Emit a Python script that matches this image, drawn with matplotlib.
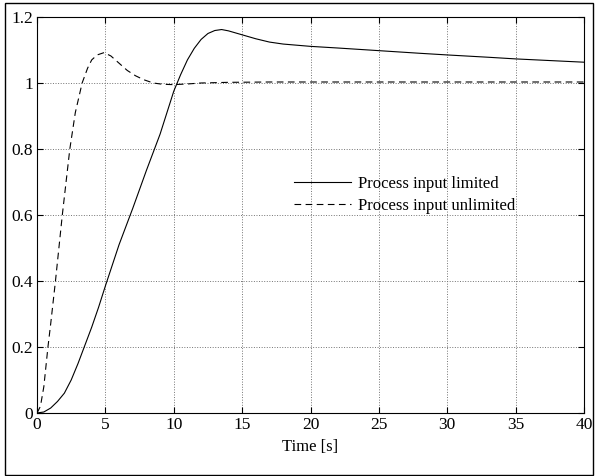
import matplotlib.pyplot as plt
from matplotlib.patches import Rectangle

plt.rcParams["font.family"] = ["Liberation Serif", "DejaVu Serif"]

# step responses
t_limited = [0, 0.5, 1, 1.5, 2, 2.5, 3, 3.5, 4, 4.5, 5, 6, 7, 8, 9, 10, 10.5, 11,
             11.5, 12, 12.5, 13, 13.5, 14, 14.5, 15, 16, 17, 18, 20, 22, 25, 28,
             30, 33, 35, 38, 40]
y_limited = [0, 0.003, 0.015, 0.035, 0.06, 0.10, 0.15, 0.205, 0.26, 0.32, 0.385,
             0.51, 0.62, 0.735, 0.845, 0.975, 1.025, 1.07, 1.105, 1.132, 1.15,
             1.159, 1.162, 1.158, 1.152, 1.146, 1.134, 1.124, 1.118, 1.111, 1.106,
             1.098, 1.09, 1.085, 1.078, 1.073, 1.067, 1.063]

t_unlimited = [0, 0.25, 0.5, 0.8, 1.0, 1.35, 1.85, 2.4, 2.8, 3.3, 3.7, 4.0, 4.4,
               4.9, 5.4, 6.0, 6.6, 7.2, 7.8, 8.5, 9.2, 10, 11, 12, 14, 17, 20, 25,
               30, 35, 40]
y_unlimited = [0, 0.02, 0.08, 0.2, 0.27, 0.4, 0.6, 0.8, 0.91, 1.0, 1.045, 1.07,
               1.085, 1.092, 1.082, 1.06, 1.038, 1.022, 1.01, 1.0, 0.996, 0.995,
               0.997, 1.0, 1.002, 1.003, 1.003, 1.003, 1.003, 1.003, 1.003]

labels = ["Process input limited", "Process input unlimited"]

fig = plt.figure(figsize=(5.95, 4.76), dpi=100)
fig.patches.append(Rectangle((0.009, 0.003), 0.988, 0.99, transform=fig.transFigure,
                             fill=False, edgecolor="black", linewidth=1.0))
ax = fig.add_axes([0.0622, 0.1324, 0.9193, 0.8319])

ax.plot(t_limited, y_limited, color="black", linewidth=0.8, label=labels[0])
ax.plot(t_unlimited, y_unlimited, color="black", linewidth=0.8,
        linestyle=(0, (6, 4)), label=labels[1])

ax.set_xlim(0, 40)
ax.set_ylim(0, 1.2)
ax.set_xticks(range(0, 41, 5))
ax.set_yticks([0, 0.2, 0.4, 0.6, 0.8, 1, 1.2])
ax.set_yticklabels(["0", "0.2", "0.4", "0.6", "0.8", "1", "1.2"])
ax.grid(True, linestyle=":", color="0.45", linewidth=0.7)
ax.tick_params(direction="in", top=True, right=True, labelsize=12.5, length=4, pad=3)
for s in ax.spines.values():
    s.set_linewidth(0.8)

ax.set_xlabel("Time [s]", fontsize=12, labelpad=4)

ax.legend(loc="center left", bbox_to_anchor=(0.455, 0.55), frameon=False,
          fontsize=12, handlelength=3.4, handletextpad=0.4, labelspacing=0.35,
          borderpad=0)

fig.savefig("out.png", dpi=100)
